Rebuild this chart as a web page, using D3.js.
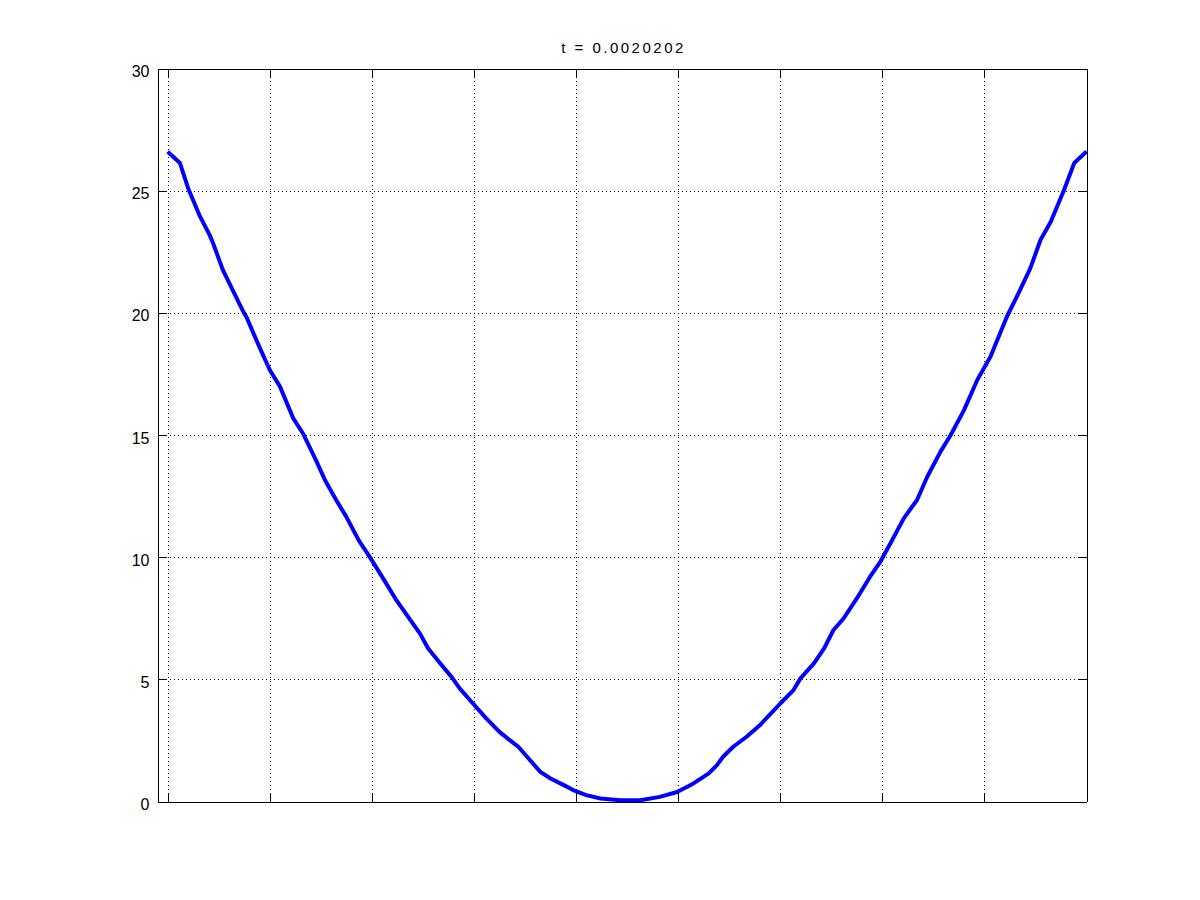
<!DOCTYPE html>
<html>
  <head>
    <script type="text/javascript" src="https://cdn.jsdelivr.net/npm/d3@7"></script>
    <style type="text/css">

html, body {
  margin: 0;
  background: #fff;
}

svg {
  display: block;
}

.axis text {
  font: 16px "Liberation Sans", Arial, sans-serif;
  fill: #000;
}

.axis line, .axis path {
  shape-rendering: crispEdges;
}

.grid line {
  stroke: #000;
  stroke-dasharray: 1,3;
  shape-rendering: crispEdges;
}

.grid path {
  display: none;
}

    </style>
  </head>
  <body>
    <div id="chart"></div>
    <script type="text/javascript">

var title = "t = 0.0020202";

// x positions (ticks have no labels) and the values of u at t
var xVals = [0.00, 0.12, 0.20, 0.31, 0.41, 0.44, 0.54, 0.62, 0.74, 0.77, 0.89, 1.00, 1.10, 1.23,
  1.33, 1.46, 1.54, 1.65, 1.75, 1.87, 1.98, 2.11, 2.24, 2.40, 2.47, 2.55, 2.67, 2.78,
  2.86, 2.99, 3.12, 3.25, 3.35, 3.43, 3.52, 3.65, 3.75, 3.88, 3.99, 4.10, 4.24, 4.43,
  4.63, 4.82, 4.99, 5.15, 5.30, 5.38, 5.44, 5.54, 5.67, 5.80, 6.00, 6.13, 6.20, 6.33,
  6.43, 6.52, 6.62, 6.75, 6.88, 6.98, 7.08, 7.21, 7.34, 7.44, 7.57, 7.67, 7.80, 7.93,
  8.06, 8.22, 8.35, 8.45, 8.55, 8.65, 8.78, 8.88, 9.00];
var yVals = [26.59, 26.13, 25.10, 24.00, 23.19, 22.90, 21.76, 21.07, 20.05, 19.84, 18.68, 17.66, 16.98, 15.68,
  15.03, 13.90, 13.16, 12.34, 11.65, 10.70, 10.00, 9.13, 8.24, 7.29, 6.88, 6.27, 5.65, 5.10,
  4.63, 4.01, 3.40, 2.85, 2.51, 2.26, 1.83, 1.21, 0.94, 0.67, 0.43, 0.26, 0.12, 0.05,
  0.05, 0.19, 0.39, 0.74, 1.15, 1.49, 1.83, 2.24, 2.65, 3.12, 4.01, 4.56, 5.05, 5.65,
  6.27, 7.01, 7.49, 8.31, 9.20, 9.81, 10.57, 11.59, 12.34, 13.29, 14.32, 15.00, 16.02, 17.25,
  18.21, 19.84, 20.94, 21.83, 22.99, 23.73, 25.03, 26.13, 26.60];

var xTicks = [0, 1, 2, 3, 4, 5, 6, 7, 8];
var yTicks = [0, 5, 10, 15, 20, 25, 30];

var margin = {top: 68, left: 157},
    width = 929,
    height = 733,
    tick = 9;

var svg = d3.select("#chart").append("svg")
    .attr("width", 1200)
    .attr("height", 900);

var g = svg.append("g")
    .attr("transform", "translate(" + (margin.left + 0.5) + "," + (margin.top + 0.5) + ")");

var x = d3.scaleLinear().domain([-0.1, 9]).range([0, width]);
var y = d3.scaleLinear().domain([0, 30]).range([height, 0]);

// dotted grid
g.append("g").attr("class", "grid")
    .call(d3.axisBottom(x).tickValues(xTicks).tickSize(height).tickFormat(""));
g.append("g").attr("class", "grid")
    .call(d3.axisLeft(y).tickValues(yTicks).tickSize(-width).tickFormat(""));

// the curve
var points = xVals.map(function(d, i) { return [d, yVals[i]]; });

g.append("path")
    .datum(points)
    .attr("fill", "none")
    .attr("stroke", "#0000ff")
    .attr("stroke-width", 4)
    .attr("stroke-linejoin", "round")
    .attr("d", d3.line()
      .x(function(d) { return x(d[0]); })
      .y(function(d) { return y(d[1]); }));

// box with inward ticks on all sides
g.append("g").attr("class", "axis")
    .attr("transform", "translate(0," + height + ")")
    .call(d3.axisBottom(x).tickValues(xTicks).tickSize(-tick).tickSizeOuter(0).tickFormat(""));
g.append("g").attr("class", "axis")
    .call(d3.axisTop(x).tickValues(xTicks).tickSize(-tick).tickSizeOuter(0).tickFormat(""));
var left = g.append("g").attr("class", "axis")
    .call(d3.axisLeft(y).tickValues(yTicks).tickSize(-tick).tickSizeOuter(0).tickPadding(8));
left.selectAll("text").attr("dy", "0.5em");
g.append("g").attr("class", "axis")
    .attr("transform", "translate(" + width + ",0)")
    .call(d3.axisRight(y).tickValues(yTicks).tickSize(-tick).tickSizeOuter(0).tickFormat(""));

g.selectAll(".axis path, .axis line").attr("stroke", "#000");

svg.append("text")
    .attr("x", margin.left + width / 2 + 2)
    .attr("y", 53)
    .attr("text-anchor", "middle")
    .style("font", "15px 'Liberation Sans', Arial, sans-serif")
    .style("letter-spacing", "2.5px")
    .text(title);

    </script>
  </body>
</html>
